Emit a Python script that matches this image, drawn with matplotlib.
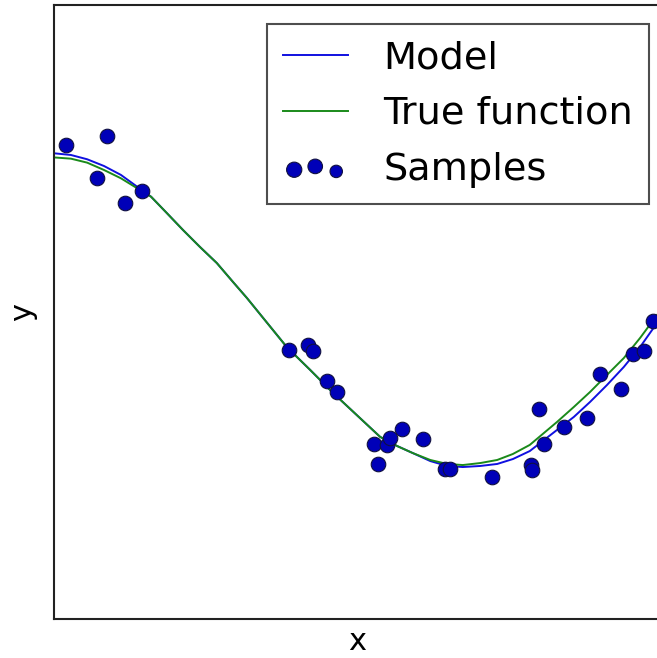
import numpy as np
import matplotlib
matplotlib.use("Agg")
import matplotlib.pyplot as plt
from matplotlib.legend_handler import HandlerPathCollection

# sample points
sample_x = [0.020, 0.088, 0.071, 0.118, 0.146, 0.390, 0.421, 0.430, 0.453, 0.469,
            0.531, 0.537, 0.552, 0.557, 0.577, 0.612, 0.648, 0.657, 0.726, 0.791,
            0.793, 0.804, 0.813, 0.846, 0.884, 0.905, 0.940, 0.960, 0.978, 0.993]
sample_y = [1.088, 1.147, 0.873, 0.710, 0.788, -0.248, -0.215, -0.254, -0.450, -0.521,
            -0.860, -0.990, -0.866, -0.821, -0.762, -0.827, -1.023, -1.023, -1.075, -0.997,
            -1.029, -0.632, -0.860, -0.749, -0.691, -0.404, -0.502, -0.274, -0.254, -0.059]

# both curves, read at the same x positions
curve_x = [0.0, 0.028, 0.055, 0.083, 0.111, 0.138, 0.161, 0.187, 0.214, 0.242,
           0.270, 0.297, 0.320, 0.386, 0.425, 0.463, 0.541, 0.569, 0.595, 0.624,
           0.652, 0.678, 0.707, 0.735, 0.761, 0.789, 0.834, 0.862, 0.889, 0.917,
           0.945, 0.972, 1.0]
model_y = [1.034, 1.023, 0.995, 0.951, 0.893, 0.816, 0.751, 0.645, 0.534, 0.424,
           0.319, 0.195, 0.091, -0.228, -0.378, -0.528, -0.814, -0.873, -0.919, -0.971,
           -1.003, -1.010, -1.003, -0.990, -0.958, -0.906, -0.769, -0.684, -0.586, -0.476,
           -0.358, -0.228, -0.072]
true_y = [1.007, 0.999, 0.973, 0.925, 0.871, 0.806, 0.751, 0.645, 0.534, 0.424,
          0.319, 0.195, 0.091, -0.228, -0.378, -0.528, -0.814, -0.873, -0.919, -0.964,
          -0.990, -0.997, -0.984, -0.964, -0.925, -0.866, -0.717, -0.619, -0.521, -0.410,
          -0.300, -0.169, -0.020]

fig = plt.figure(figsize=(6.57, 6.58), dpi=100)
ax = fig.add_axes([54/657, 39/658, 606/657, 614/658])

ax.plot(curve_x, model_y, color="#1010e0", lw=1.4, label="Model")
ax.plot(curve_x, true_y, color="#1a8a1a", lw=1.4, label="True function")
ax.scatter(sample_x, sample_y, s=110, c="#0000b8", edgecolors="#101040", linewidths=0.8,
           label="Samples", zorder=3)

ax.set_xlim(0, 1.005)
ax.set_ylim(-2, 2)
ax.set_xticks([])
ax.set_yticks([])
for sp in ax.spines.values():
    sp.set_linewidth(1.5)
    sp.set_color("#222222")

ax.set_xlabel("x", fontsize=22, labelpad=6)
ax.set_ylabel("y", fontsize=22, labelpad=12)

leg = ax.legend(loc="upper right", bbox_to_anchor=(649/657, 1 - 24/658),
                bbox_transform=fig.transFigure, borderaxespad=0,
                fontsize=27.5, scatterpoints=3, handlelength=1.7, handletextpad=0.93,
                labelspacing=0.52, borderpad=0.42, fancybox=False,
                handler_map={type(ax.collections[0]): HandlerPathCollection(sizes=[120, 110, 80])})
leg.get_frame().set_edgecolor("#222222")
leg.get_frame().set_linewidth(1.5)

fig.savefig("out.png", dpi=100)
